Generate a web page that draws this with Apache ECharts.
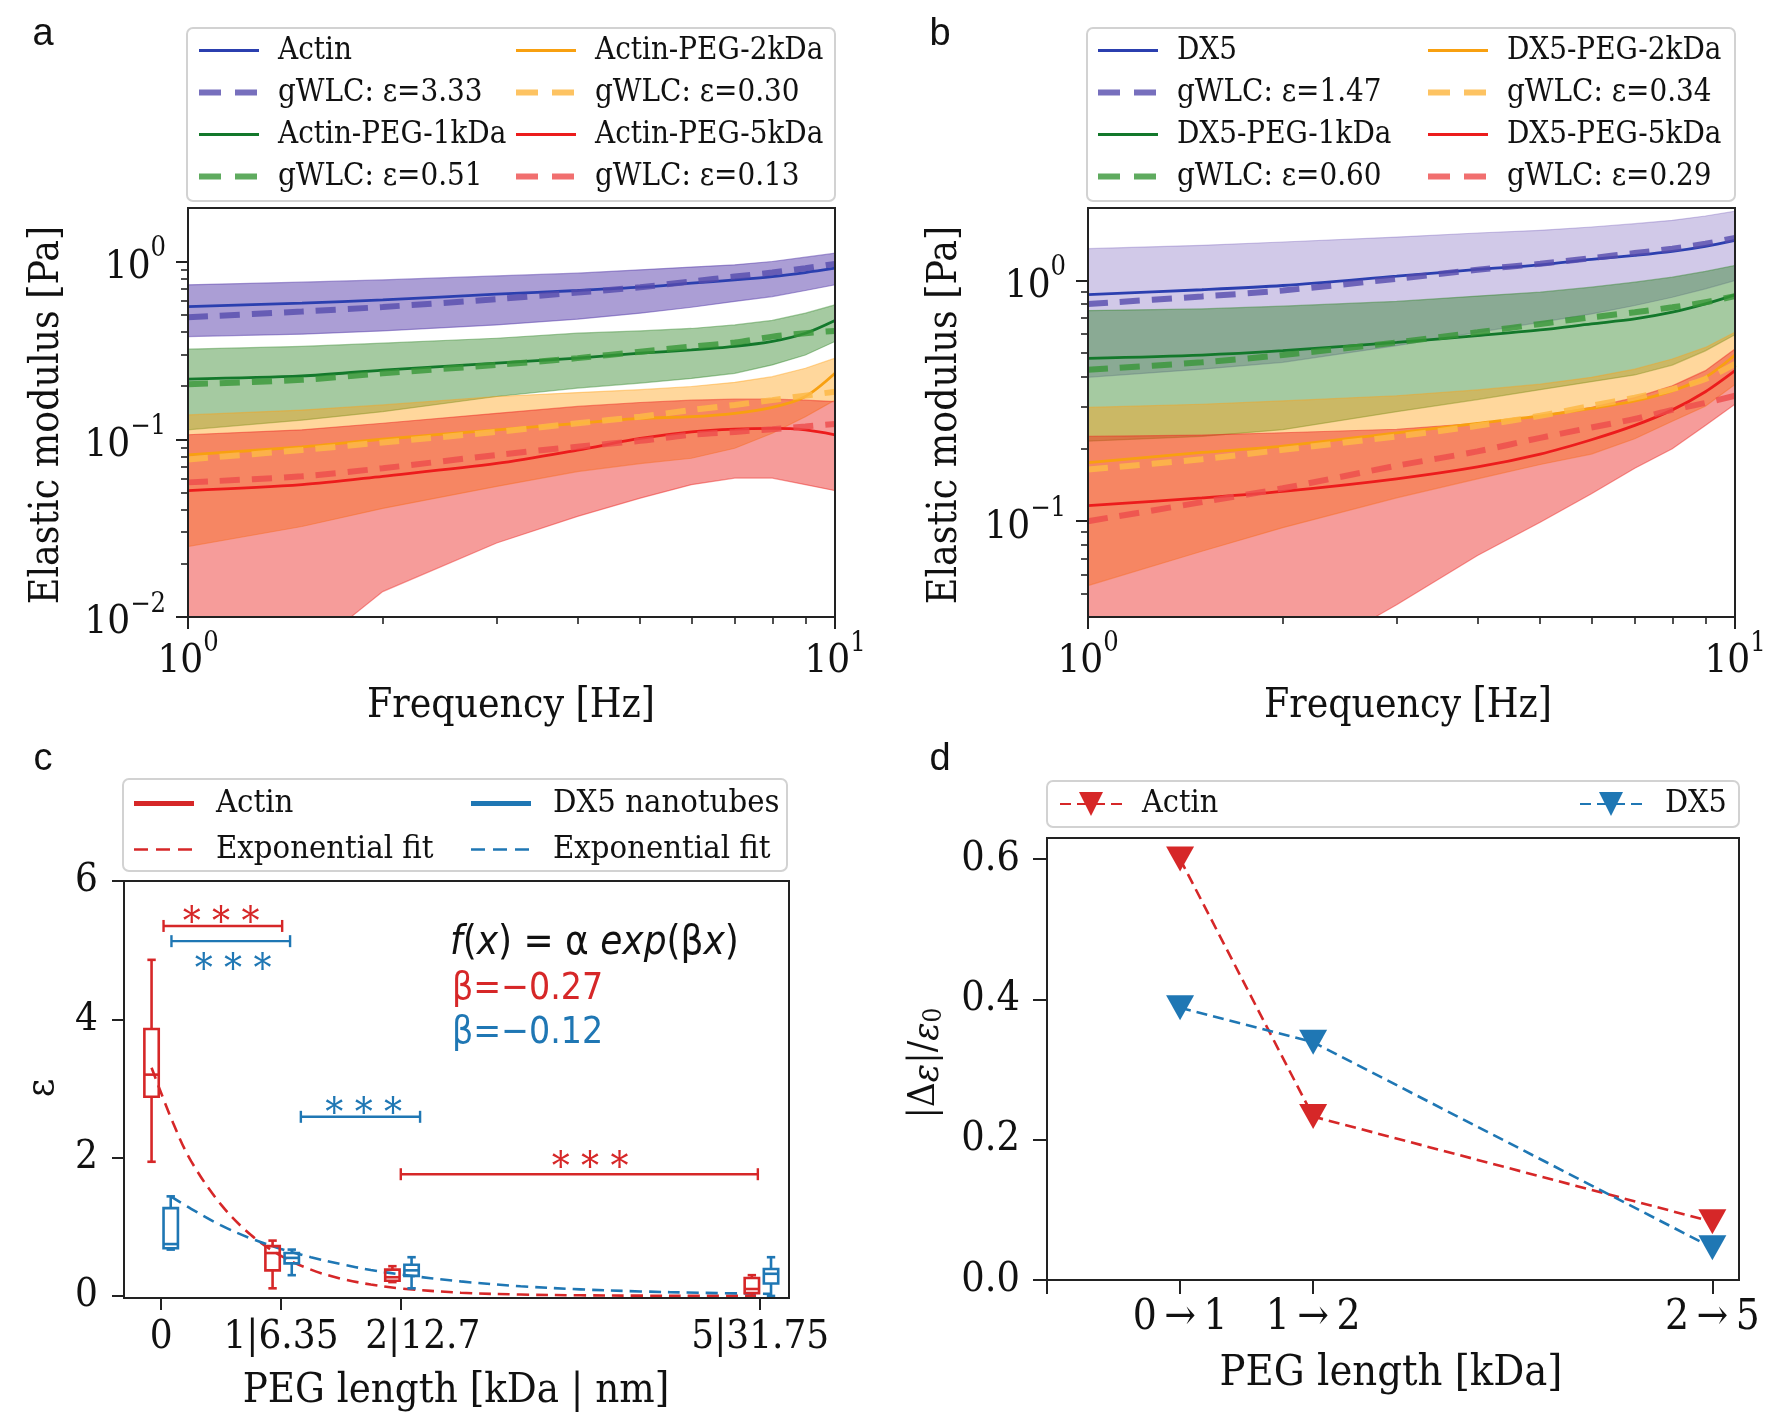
<!DOCTYPE html>
<html>
<head>
<meta charset="utf-8">
<title>Elastic modulus vs frequency and PEG length</title>
<script src="https://cdn.jsdelivr.net/npm/echarts@6.0.0/dist/echarts.min.js"></script>
<style>
html, body { margin: 0; padding: 0; background: #ffffff; }
#chart { width: 1781px; height: 1415px; }
</style>
</head>
<body>
<div id="chart"></div>
<script>
// ================= DATA =================
const freq = [1, 1.5, 2, 3, 4, 5, 6, 7, 8, 9, 10];

// ---- panel a : actin networks ----
const aActinMean = [0.558, 0.583, 0.608, 0.655, 0.687, 0.717, 0.755, 0.788, 0.823, 0.867, 0.917];
const aActinFit  = [0.486, 0.523, 0.555, 0.614, 0.669, 0.717, 0.772, 0.823, 0.867, 0.917, 0.970];
const aActinHi   = [0.739, 0.765, 0.788, 0.830, 0.860, 0.898, 0.930, 0.958, 1.000, 1.058, 1.114];
const aActinLo   = [0.378, 0.390, 0.407, 0.440, 0.474, 0.512, 0.553, 0.596, 0.635, 0.687, 0.739];

const aPeg1Mean = [0.218, 0.227, 0.245, 0.268, 0.286, 0.305, 0.318, 0.333, 0.355, 0.395, 0.466];
const aPeg1Fit  = [0.204, 0.216, 0.235, 0.262, 0.286, 0.311, 0.332, 0.350, 0.378, 0.395, 0.407];
const aPeg1Hi   = [0.321, 0.333, 0.347, 0.370, 0.395, 0.407, 0.420, 0.440, 0.466, 0.512, 0.570];
const aPeg1Lo   = [0.113, 0.128, 0.143, 0.174, 0.194, 0.207, 0.220, 0.235, 0.262, 0.298, 0.355];

const aPeg2Mean = [0.0816, 0.0906, 0.100, 0.113, 0.123, 0.131, 0.134, 0.140, 0.151, 0.174, 0.235];
const aPeg2Fit  = [0.077, 0.087, 0.096, 0.110, 0.123, 0.134, 0.146, 0.156, 0.166, 0.176, 0.185];
const aPeg2Hi   = [0.137, 0.146, 0.156, 0.174, 0.183, 0.190, 0.198, 0.209, 0.225, 0.251, 0.286];
const aPeg2Lo   = [0.0249, 0.0323, 0.0408, 0.0543, 0.0658, 0.073, 0.0782, 0.089, 0.108, 0.134, 0.166];

const aPeg5Mean = [0.0514, 0.0555, 0.0619, 0.0731, 0.0869, 0.101, 0.110, 0.114, 0.115, 0.113, 0.106];
const aPeg5Fit  = [0.0572, 0.0619, 0.0687, 0.0816, 0.0908, 0.098, 0.106, 0.110, 0.114, 0.118, 0.122];
const aPeg5Hi   = [0.106, 0.113, 0.123, 0.140, 0.153, 0.161, 0.166, 0.168, 0.168, 0.166, 0.163];
const aPeg5Lo   = [0.003, 0.006, 0.0139, 0.0261, 0.0368, 0.0466, 0.0555, 0.0605, 0.0605, 0.0555, 0.0514];

// ---- panel b : DX5 nanotube networks ----
const bDx5Mean = [0.874, 0.915, 0.953, 1.042, 1.111, 1.162, 1.223, 1.271, 1.321, 1.386, 1.468];
const bDx5Fit  = [0.799, 0.858, 0.909, 1.016, 1.108, 1.173, 1.239, 1.300, 1.355, 1.422, 1.501];
const bDx5Hi   = [1.355, 1.399, 1.445, 1.515, 1.575, 1.616, 1.668, 1.722, 1.778, 1.853, 1.939];
const bDx5Lo   = [0.396, 0.428, 0.457, 0.536, 0.609, 0.670, 0.726, 0.787, 0.852, 0.923, 1.000];

const bPeg1Mean = [0.475, 0.490, 0.511, 0.553, 0.590, 0.623, 0.660, 0.692, 0.738, 0.799, 0.871];
const bPeg1Fit  = [0.426, 0.457, 0.490, 0.553, 0.609, 0.660, 0.703, 0.738, 0.774, 0.812, 0.861];
const bPeg1Hi   = [0.750, 0.762, 0.782, 0.818, 0.861, 0.894, 0.938, 0.984, 1.032, 1.090, 1.155];
const bPeg1Lo   = [0.215, 0.225, 0.240, 0.285, 0.320, 0.352, 0.380, 0.405, 0.445, 0.510, 0.595];

const bPeg2Mean = [0.175, 0.193, 0.205, 0.233, 0.255, 0.274, 0.294, 0.316, 0.348, 0.396, 0.490];
const bPeg2Fit  = [0.164, 0.181, 0.198, 0.225, 0.249, 0.274, 0.302, 0.326, 0.354, 0.390, 0.450];
const bPeg2Hi   = [0.297, 0.306, 0.316, 0.332, 0.351, 0.371, 0.396, 0.428, 0.472, 0.527, 0.609];
const bPeg2Lo   = [0.054, 0.075, 0.094, 0.125, 0.150, 0.172, 0.190, 0.220, 0.260, 0.300, 0.370];

const bPeg5Mean = [0.116, 0.125, 0.133, 0.150, 0.168, 0.190, 0.218, 0.250, 0.290, 0.345, 0.422];
const bPeg5Fit  = [0.100, 0.120, 0.137, 0.170, 0.195, 0.222, 0.245, 0.266, 0.290, 0.310, 0.332];
const bPeg5Hi   = [0.225, 0.228, 0.233, 0.241, 0.255, 0.274, 0.297, 0.326, 0.365, 0.422, 0.519];
const bPeg5Lo   = [0.007, 0.015, 0.024, 0.045, 0.072, 0.099, 0.130, 0.166, 0.200, 0.250, 0.306];

// ---- panel c : epsilon vs PEG length (box statistics: min, q1, median, q3, max) ----
const cTickPos    = [0, 1, 2, 5];
const cTickLabels = ['0', '1|6.35', '2|12.7', '5|31.75'];
const cActinPos   = [-0.08, 0.93, 1.93, 4.93];
const cActinBox   = [[1.94, 2.88, 3.20, 3.86, 4.86], [0.11, 0.37, 0.62, 0.72, 0.80],
                     [0.20, 0.22, 0.27, 0.38, 0.43], [0.00, 0.04, 0.10, 0.26, 0.30]];
const cDx5Pos     = [0.08, 1.09, 2.09, 5.09];
const cDx5Box     = [[0.67, 0.69, 0.75, 1.27, 1.44], [0.30, 0.47, 0.55, 0.62, 0.67],
                     [0.11, 0.29, 0.37, 0.45, 0.56], [0.00, 0.18, 0.32, 0.39, 0.56]];
const cActinFitX  = [-0.08, 0.1, 0.25, 0.5, 0.75, 1.0, 1.25, 1.5, 1.75, 2.0, 2.5, 3.0, 3.5, 4.0, 4.5, 4.93];
const cActinFitY  = [3.30, 2.50, 1.95, 1.32, 0.88, 0.58, 0.38, 0.25, 0.165, 0.108, 0.047, 0.020, 0.009, 0.004, 0.002, 0.001];
const cDx5FitX    = [0.08, 0.25, 0.5, 0.75, 1.0, 1.25, 1.5, 1.75, 2.0, 2.5, 3.0, 3.5, 4.0, 4.5, 5.09];
const cDx5FitY    = [1.44, 1.26, 1.02, 0.83, 0.68, 0.56, 0.46, 0.375, 0.31, 0.21, 0.14, 0.095, 0.065, 0.045, 0.03];
// significance brackets
const sigX1    = [0.02, 0.086, 1.166, 2.00];
const sigX2    = [1.01, 1.076, 2.161, 4.98];
const sigY     = [5.35, 5.13, 2.59, 1.76];
const sigStarX = [0.50, 0.60, 1.69, 3.58];
const sigStarY = [5.53, 4.85, 2.76, 1.99];
const sigGroup = ['actin', 'dx5', 'dx5', 'actin'];

// ---- panel d : relative change of epsilon ----
const dTickPos    = [0, 1, 2, 5];
const dLabelPos   = [1, 2, 5];
const dTickLabels = ['0\u2009\u2192\u20091', '1\u2009\u2192\u20092', '2\u2009\u2192\u20095'];
const dActin      = [0.600, 0.233, 0.083];
const dDx5        = [0.388, 0.339, 0.046];

// ================= STYLE / LAYOUT =================
const SERIF  = '"DejaVu Serif Condensed", "DejaVu Serif", serif';
const SANSC  = '"DejaVu Sans Condensed", "DejaVu Sans", sans-serif';
const SANS   = '"Liberation Sans", "DejaVu Sans", sans-serif';
const INK = '#111111', AX = '#222222';
const TICK_FS = 40, LEG_FS = 31;

const G = {
  a: {left: 188, top: 208, width: 647, height: 409},
  b: {left: 1088, top: 208, width: 647, height: 409},
  c: {left: 124, top: 881, width: 665, height: 417},
  d: {left: 1047, top: 838, width: 692, height: 442}
};

const C = {
  blueL: '#2b3faf', blueD: 'rgba(85,75,172,0.8)',
  greenL: '#13782b', greenD: 'rgba(55,150,55,0.8)',
  orangeL: '#f8a010', orangeD: 'rgba(253,185,70,0.85)',
  redL: '#ec1c1c', redD: 'rgba(238,75,75,0.8)',
  purpleA: 'rgba(88,62,172,0.5)', purpleB: 'rgba(88,62,172,0.28)',
  greenF: 'rgba(40,128,30,0.42)', orangeF: 'rgba(255,160,20,0.42)', redF: 'rgba(235,35,30,0.45)',
  tabRed: '#d62728', tabBlue: '#1f77b4'
};

const POW_RICH = {
  b: {fontFamily: SERIF, fontSize: TICK_FS, color: INK, lineHeight: 52, verticalAlign: 'bottom'},
  s: {fontFamily: SERIF, fontSize: 27, color: INK, lineHeight: 22, verticalAlign: 'top'}
};
function powLabel(v) {
  const e = Math.round(Math.log10(v));
  return '{b|10}{s|' + (e < 0 ? '\u2212' + (-e) : String(e)) + '}';
}

function zip(xs, ys) { return xs.map((x, i) => [x, ys[i]]); }

function majorLogAxis(gridIndex, min, max, vals, isY) {
  return {
    type: 'log', logBase: 10, gridIndex, min, max, position: isY ? 'left' : 'bottom',
    axisLine: {show: true, onZero: false, lineStyle: {color: AX, width: 2}},
    axisTick: {show: true, customValues: vals, length: 12, lineStyle: {color: AX, width: 2}},
    axisLabel: {show: true, customValues: vals, formatter: powLabel, rich: POW_RICH,
                margin: isY ? 22 : 13, color: INK},
    splitLine: {show: false}
  };
}
function minorLogAxis(gridIndex, min, max, vals, isY) {
  return {
    type: 'log', logBase: 10, gridIndex, min, max, position: isY ? 'left' : 'bottom', offset: 0,
    axisLine: {show: false}, axisLabel: {show: false}, splitLine: {show: false},
    axisTick: {show: true, customValues: vals, length: 7, lineStyle: {color: AX, width: 1.6}}
  };
}
function linAxis(gridIndex, min, max, tickVals, labelVals, fmt, margin, tickLen, isY, fs, rich) {
  return {
    type: 'value', gridIndex, min, max, position: isY ? 'left' : 'bottom',
    axisLine: {show: true, onZero: false, lineStyle: {color: AX, width: 2}},
    axisTick: {show: true, customValues: tickVals, length: tickLen, lineStyle: {color: AX, width: 2}},
    axisLabel: {show: true, customValues: labelVals, formatter: fmt, margin,
                fontFamily: SERIF, fontSize: fs || TICK_FS, color: INK, rich: rich},
    splitLine: {show: false}
  };
}
// the "2|12.7" tick label sits a little to the right of its tick in the reference
const C_RICH = {sh: {fontFamily: SERIF, fontSize: 40, color: INK, padding: [0, 0, 0, 44]}};
function cLabel(v) {
  const t = cTickLabels[cTickPos.indexOf(v)];
  return v === 2 ? '{sh|' + t + '}' : t;
}

function clipPoly(pts, x0, y0, x1, y1) {
  const planes = [
    [p => p[0] >= x0, (a, b) => [x0, a[1] + (x0 - a[0]) / (b[0] - a[0]) * (b[1] - a[1])]],
    [p => p[0] <= x1, (a, b) => [x1, a[1] + (x1 - a[0]) / (b[0] - a[0]) * (b[1] - a[1])]],
    [p => p[1] >= y0, (a, b) => [a[0] + (y0 - a[1]) / (b[1] - a[1]) * (b[0] - a[0]), y0]],
    [p => p[1] <= y1, (a, b) => [a[0] + (y1 - a[1]) / (b[1] - a[1]) * (b[0] - a[0]), y1]]
  ];
  let out = pts;
  for (const [inside, cross] of planes) {
    const inp = out; out = [];
    for (let i = 0; i < inp.length; i++) {
      const cur = inp[i], prev = inp[(i + inp.length - 1) % inp.length];
      const ci = inside(cur), pi = inside(prev);
      if (ci) { if (!pi) out.push(cross(prev, cur)); out.push(cur); }
      else if (pi) out.push(cross(prev, cur));
    }
  }
  return out;
}

function bandSeries(xi, yi, xs, lo, hi, fill) {
  return {
    type: 'custom', xAxisIndex: xi, yAxisIndex: yi, silent: true, animation: false,
    data: [[xs[0], hi[0]]],
    renderItem: function (params, api) {
      const cs = params.coordSys;
      const pts = [];
      for (let i = 0; i < xs.length; i++) pts.push(api.coord([xs[i], hi[i]]));
      for (let i = xs.length - 1; i >= 0; i--) pts.push(api.coord([xs[i], lo[i]]));
      const clipped = clipPoly(pts, cs.x, cs.y, cs.x + cs.width, cs.y + cs.height);
      return {type: 'polygon', shape: {points: clipped},
              style: {fill: fill, stroke: fill, lineWidth: 1.2}};
    }
  };
}
function meanLine(name, xi, yi, ys, color) {
  return {type: 'line', name, xAxisIndex: xi, yAxisIndex: yi, data: zip(freq, ys),
          symbol: 'none', showSymbol: false, smooth: 0.3,
          color, itemStyle: {color}, lineStyle: {color, width: 2.8}, silent: true, animation: false};
}
function fitLine(name, xi, yi, ys, color) {
  return {type: 'line', name, xAxisIndex: xi, yAxisIndex: yi, data: zip(freq, ys),
          symbol: 'none', showSymbol: false, smooth: 0.3,
          color, itemStyle: {color}, lineStyle: {color, width: 6, type: [20, 12]}, silent: true, animation: false};
}

const BOX_W = 0.12, CAP_W = 0.07;
function boxSeries(pos, stats, color) {
  return {
    type: 'custom', xAxisIndex: 4, yAxisIndex: 4, silent: true, animation: false, z: 4,
    data: pos.map((p, i) => [p].concat(stats[i])),
    encode: {x: 0, y: [1, 2, 3, 4, 5]},
    renderItem: function (params, api) {
      const x = api.value(0);
      const P = v => api.coord([x, v]);
      const pMin = P(api.value(1)), pQ1 = P(api.value(2)), pMd = P(api.value(3)),
            pQ3 = P(api.value(4)), pMx = P(api.value(5));
      const hw = api.size([BOX_W, 0])[0] / 2, cw = api.size([CAP_W, 0])[0] / 2;
      const cx = pMd[0];
      const st = {stroke: color, lineWidth: 2.6, fill: 'none'};
      const L = (x1, y1, x2, y2) => ({type: 'line', shape: {x1, y1, x2, y2}, style: st});
      return {type: 'group', children: [
        L(cx, pQ1[1], cx, pMin[1]), L(cx, pQ3[1], cx, pMx[1]),
        L(cx - cw, pMin[1], cx + cw, pMin[1]), L(cx - cw, pMx[1], cx + cw, pMx[1]),
        {type: 'rect', shape: {x: cx - hw, y: pQ3[1], width: 2 * hw, height: pQ1[1] - pQ3[1]}, style: st},
        L(cx - hw, pMd[1], cx + hw, pMd[1])
      ]};
    }
  };
}

// legend icons (paths sized exactly to itemWidth x itemHeight)
const BB = 'M0,0L0.01,0L0,0.01ZM60,14L59.99,14L60,13.99Z';
const ICON_SOLID = 'path://' + BB + 'M0,5.6H60V8.4H0Z';
const ICON_FIT   = 'path://' + BB + 'M0,4H22V10H0ZM36,4H58V10H36Z';
const ICON_THICK = 'path://' + BB + 'M0,4.5H60V9.5H0Z';
const ICON_THIN  = 'path://' + BB + 'M0,5.7H14V8.3H0ZM22,5.7H36V8.3H22ZM44,5.7H58V8.3H44Z';

function legendCol(left, top, items, pad, gap, fs) {
  return {
    orient: 'vertical', left, top, padding: 0, itemGap: gap, itemWidth: 60, itemHeight: 14,
    selectedMode: false, itemStyle: {borderWidth: 0},
    textStyle: {fontFamily: SERIF, fontSize: fs, color: INK, lineHeight: 30, padding: [0, 0, 0, pad]},
    data: items.map(it => ({name: it[0], icon: it[1]}))
  };
}
function legendD(left, name, pad) {
  return {
    orient: 'horizontal', left, top: 788, padding: 0, itemWidth: 62, itemHeight: 30,
    selectedMode: false, itemStyle: {borderWidth: 0},
    textStyle: {fontFamily: SERIF, fontSize: 32, color: INK, lineHeight: 30, padding: [0, 0, 0, pad]},
    data: [name]
  };
}

// ================= SERIES =================
const series = [
  // panel a bands then lines
  bandSeries(0, 0, freq, aActinLo, aActinHi, C.purpleA),
  bandSeries(0, 0, freq, aPeg1Lo, aPeg1Hi, C.greenF),
  bandSeries(0, 0, freq, aPeg2Lo, aPeg2Hi, C.orangeF),
  bandSeries(0, 0, freq, aPeg5Lo, aPeg5Hi, C.redF),
  meanLine('Actin', 0, 0, aActinMean, C.blueL),
  fitLine('gWLC: \u03b5=3.33', 0, 0, aActinFit, C.blueD),
  meanLine('Actin-PEG-1kDa', 0, 0, aPeg1Mean, C.greenL),
  fitLine('gWLC: \u03b5=0.51', 0, 0, aPeg1Fit, C.greenD),
  meanLine('Actin-PEG-2kDa', 0, 0, aPeg2Mean, C.orangeL),
  fitLine('gWLC: \u03b5=0.30', 0, 0, aPeg2Fit, C.orangeD),
  meanLine('Actin-PEG-5kDa', 0, 0, aPeg5Mean, C.redL),
  fitLine('gWLC: \u03b5=0.13', 0, 0, aPeg5Fit, C.redD),
  // panel b
  bandSeries(2, 2, freq, bDx5Lo, bDx5Hi, C.purpleB),
  bandSeries(2, 2, freq, bPeg1Lo, bPeg1Hi, C.greenF),
  bandSeries(2, 2, freq, bPeg2Lo, bPeg2Hi, C.orangeF),
  bandSeries(2, 2, freq, bPeg5Lo, bPeg5Hi, C.redF),
  meanLine('DX5', 2, 2, bDx5Mean, C.blueL),
  fitLine('gWLC: \u03b5=1.47', 2, 2, bDx5Fit, C.blueD),
  meanLine('DX5-PEG-1kDa', 2, 2, bPeg1Mean, C.greenL),
  fitLine('gWLC: \u03b5=0.60', 2, 2, bPeg1Fit, C.greenD),
  meanLine('DX5-PEG-2kDa', 2, 2, bPeg2Mean, C.orangeL),
  fitLine('gWLC: \u03b5=0.34', 2, 2, bPeg2Fit, C.orangeD),
  meanLine('DX5-PEG-5kDa', 2, 2, bPeg5Mean, C.redL),
  fitLine('gWLC: \u03b5=0.29', 2, 2, bPeg5Fit, C.redD),
  // panel c: legend proxies
  {type: 'line', name: 'Actin\u200b', xAxisIndex: 4, yAxisIndex: 4, data: [], color: C.tabRed,
   itemStyle: {color: C.tabRed}, lineStyle: {color: C.tabRed, width: 5}},
  {type: 'line', name: 'DX5 nanotubes', xAxisIndex: 4, yAxisIndex: 4, data: [], color: C.tabBlue,
   itemStyle: {color: C.tabBlue}, lineStyle: {color: C.tabBlue, width: 5}},
  // exponential fits
  {type: 'line', name: 'Exponential fit', xAxisIndex: 4, yAxisIndex: 4, data: zip(cActinFitX, cActinFitY),
   symbol: 'none', showSymbol: false, smooth: 0.35, color: C.tabRed,
   itemStyle: {color: C.tabRed}, lineStyle: {color: C.tabRed, width: 2.6, type: [12, 7]}, silent: true, animation: false, z: 3},
  {type: 'line', name: 'Exponential fit\u200b', xAxisIndex: 4, yAxisIndex: 4, data: zip(cDx5FitX, cDx5FitY),
   symbol: 'none', showSymbol: false, smooth: 0.35, color: C.tabBlue,
   itemStyle: {color: C.tabBlue}, lineStyle: {color: C.tabBlue, width: 2.6, type: [12, 7]}, silent: true, animation: false, z: 3},
  boxSeries(cActinPos, cActinBox, C.tabRed),
  boxSeries(cDx5Pos, cDx5Box, C.tabBlue),
  // significance brackets
  {type: 'custom', xAxisIndex: 4, yAxisIndex: 4, silent: true, animation: false, z: 5,
   data: sigX1.map((x1, i) => [x1, sigY[i], sigX2[i], sigStarX[i], sigStarY[i]]),
   encode: {x: [0, 2, 3], y: [1, 4]},
   renderItem: function (params, api) {
     const color = sigGroup[params.dataIndex] === 'actin' ? C.tabRed : C.tabBlue;
     const a = api.coord([api.value(0), api.value(1)]);
     const b = api.coord([api.value(2), api.value(1)]);
     const s = api.coord([api.value(3), api.value(4)]);
     const st = {stroke: color, lineWidth: 2.4};
     return {type: 'group', children: [
       {type: 'line', shape: {x1: a[0], y1: a[1], x2: b[0], y2: b[1]}, style: st},
       {type: 'line', shape: {x1: a[0], y1: a[1] - 6, x2: a[0], y2: a[1] + 6}, style: st},
       {type: 'line', shape: {x1: b[0], y1: b[1] - 6, x2: b[0], y2: b[1] + 6}, style: st},
       {type: 'text', style: {text: '* * *', x: s[0], y: s[1] + 10, align: 'center', textAlign: 'center',
         verticalAlign: 'middle', textVerticalAlign: 'middle', fill: color, fontFamily: SERIF, fontSize: 40}}
     ]};
   }},
  // panel d
  {type: 'line', name: 'Actin\u200b\u200b', xAxisIndex: 5, yAxisIndex: 5, data: zip(dLabelPos, dActin),
   symbol: 'triangle', symbolRotate: 180, symbolSize: [28, 25], showSymbol: true, color: C.tabRed,
   itemStyle: {color: C.tabRed}, lineStyle: {color: C.tabRed, width: 2.6, type: [11, 6]}, silent: true, animation: false},
  {type: 'line', name: 'DX5\u200b', xAxisIndex: 5, yAxisIndex: 5, data: zip(dLabelPos, dDx5),
   symbol: 'triangle', symbolRotate: 180, symbolSize: [28, 25], showSymbol: true, color: C.tabBlue,
   itemStyle: {color: C.tabBlue}, lineStyle: {color: C.tabBlue, width: 2.6, type: [11, 6]}, silent: true, animation: false}
];

// ================= GRAPHIC (frames, legend boxes, titles) =================
function frame(g) {
  return {type: 'rect', z: 100, silent: true,
          shape: {x: g.left, y: g.top, width: g.width, height: g.height},
          style: {fill: 'none', stroke: AX, lineWidth: 2}};
}
function legBox(x, y, w, h) {
  return {type: 'rect', z: 0, silent: true, shape: {x, y, width: w, height: h, r: 6},
          style: {fill: 'rgba(255,255,255,0.85)', stroke: '#d2d2d2', lineWidth: 2}};
}
function txt(x, y, text, opts) {
  const o = opts || {};
  return {type: 'text', z: 100, silent: true, x, y, rotation: o.rot || 0,
          style: {text, x: 0, y: 0, fill: o.fill || INK, fontFamily: o.font || SERIF, fontSize: o.size || 40,
                  fontStyle: o.italic ? 'italic' : 'normal',
                  align: o.align || 'center', textAlign: o.align || 'center',
                  verticalAlign: 'middle', textVerticalAlign: 'middle', rich: o.rich}};
}
const graphic = [
  frame(G.a), frame(G.b), frame(G.c), frame(G.d),
  legBox(187, 28, 648, 173), legBox(1087, 28, 648, 173), legBox(123, 779, 664, 92), legBox(1047, 781, 692, 46),
  txt(43, 35, 'a', {font: SANS, size: 38}), txt(940, 35, 'b', {font: SANS, size: 38}),
  txt(43, 760, 'c', {font: SANS, size: 38}), txt(940, 760, 'd', {font: SANS, size: 38}),
  txt(511, 706, 'Frequency [Hz]', {size: 40.5}), txt(1408, 706, 'Frequency [Hz]', {size: 40.5}),
  txt(47, 415, 'Elastic modulus [Pa]', {rot: Math.PI / 2, size: 40.5}),
  txt(945, 415, 'Elastic modulus [Pa]', {rot: Math.PI / 2, size: 40.5}),
  txt(456, 1391, 'PEG length [kDa | nm]', {size: 41.5}),
  txt(1391, 1374, 'PEG length [kDa]', {size: 43}),
  txt(43, 1088, '\u03b5', {rot: Math.PI / 2, size: 40}),
  txt(924, 1063, '|\u0394{i|\u03b5}|/{i|\u03b5}{sub|0}', {rot: Math.PI / 2, size: 38, rich: {
    i: {fontFamily: SERIF, fontSize: 38, fontStyle: 'italic', lineHeight: 46, verticalAlign: 'bottom', fill: INK},
    sub: {fontFamily: SERIF, fontSize: 26, lineHeight: 20, verticalAlign: 'bottom', fill: INK}}}),
  txt(450, 944, '{i|f}({i|x}) = \u03b1 {i|exp}(\u03b2{i|x})', {align: 'left', font: SANSC, size: 40, rich: {
    i: {fontFamily: SANSC, fontSize: 40, fontStyle: 'italic', fill: INK}}}),
  txt(452, 989, '\u03b2=\u22120.27', {align: 'left', font: SANSC, size: 37, fill: C.tabRed}),
  txt(452, 1033, '\u03b2=\u22120.12', {align: 'left', font: SANSC, size: 37, fill: C.tabBlue})
];

const option = {
  animation: false,
  backgroundColor: '#ffffff',
  grid: [
    Object.assign({containLabel: false}, G.a), Object.assign({containLabel: false}, G.b),
    Object.assign({containLabel: false}, G.c), Object.assign({containLabel: false}, G.d)
  ],
  xAxis: [
    majorLogAxis(0, 1, 10, [1, 10], false),
    minorLogAxis(0, 1, 10, [2, 3, 4, 5, 6, 7, 8, 9], false),
    majorLogAxis(1, 1, 10, [1, 10], false),
    minorLogAxis(1, 1, 10, [2, 3, 4, 5, 6, 7, 8, 9], false),
    linAxis(2, -0.31, 5.24, cTickPos, cTickPos, cLabel, 20, 12, false, 40, C_RICH),
    linAxis(3, 0, 5.2, dTickPos, dLabelPos, v => dTickLabels[dLabelPos.indexOf(v)], 17, 14, false, 42)
  ],
  yAxis: [
    majorLogAxis(0, 0.01, 2, [0.01, 0.1, 1], true),
    minorLogAxis(0, 0.01, 2, [0.02, 0.03, 0.04, 0.05, 0.06, 0.07, 0.08, 0.09, 0.2, 0.3, 0.4, 0.5, 0.6, 0.7, 0.8, 0.9], true),
    majorLogAxis(1, 0.04, 2, [0.1, 1], true),
    minorLogAxis(1, 0.04, 2, [0.05, 0.06, 0.07, 0.08, 0.09, 0.2, 0.3, 0.4, 0.5, 0.6, 0.7, 0.8, 0.9], true),
    linAxis(2, -0.03, 6, [0, 2, 4, 6], [0, 2, 4, 6], v => String(v), 26, 12, true, 40),
    linAxis(3, 0, 0.63, [0, 0.2, 0.4, 0.6], [0, 0.2, 0.4, 0.6], v => v.toFixed(1), 27, 14, true, 41)
  ],
  legend: [
    legendCol(199, 35, [['Actin', ICON_SOLID], ['gWLC: \u03b5=3.33', ICON_FIT], ['Actin-PEG-1kDa', ICON_SOLID], ['gWLC: \u03b5=0.51', ICON_FIT]], 14, 11, LEG_FS),
    legendCol(516, 35, [['Actin-PEG-2kDa', ICON_SOLID], ['gWLC: \u03b5=0.30', ICON_FIT], ['Actin-PEG-5kDa', ICON_SOLID], ['gWLC: \u03b5=0.13', ICON_FIT]], 14, 11, LEG_FS),
    legendCol(1098, 35, [['DX5', ICON_SOLID], ['gWLC: \u03b5=1.47', ICON_FIT], ['DX5-PEG-1kDa', ICON_SOLID], ['gWLC: \u03b5=0.60', ICON_FIT]], 14, 11, LEG_FS),
    legendCol(1428, 35, [['DX5-PEG-2kDa', ICON_SOLID], ['gWLC: \u03b5=0.34', ICON_FIT], ['DX5-PEG-5kDa', ICON_SOLID], ['gWLC: \u03b5=0.29', ICON_FIT]], 14, 11, LEG_FS),
    legendCol(134, 787, [['Actin\u200b', ICON_THICK], ['Exponential fit', ICON_THIN]], 17, 13, 32.5),
    legendCol(471, 787, [['DX5 nanotubes', ICON_THICK], ['Exponential fit\u200b', ICON_THIN]], 17, 13, 32.5),
    legendD(1059, 'Actin\u200b\u200b', 15),
    legendD(1579, 'DX5\u200b', 18)
  ],
  graphic: graphic,
  series: series
};

const chart = echarts.init(document.getElementById('chart'), null, {renderer: 'canvas'});
chart.setOption(option);
</script>
</body>
</html>
